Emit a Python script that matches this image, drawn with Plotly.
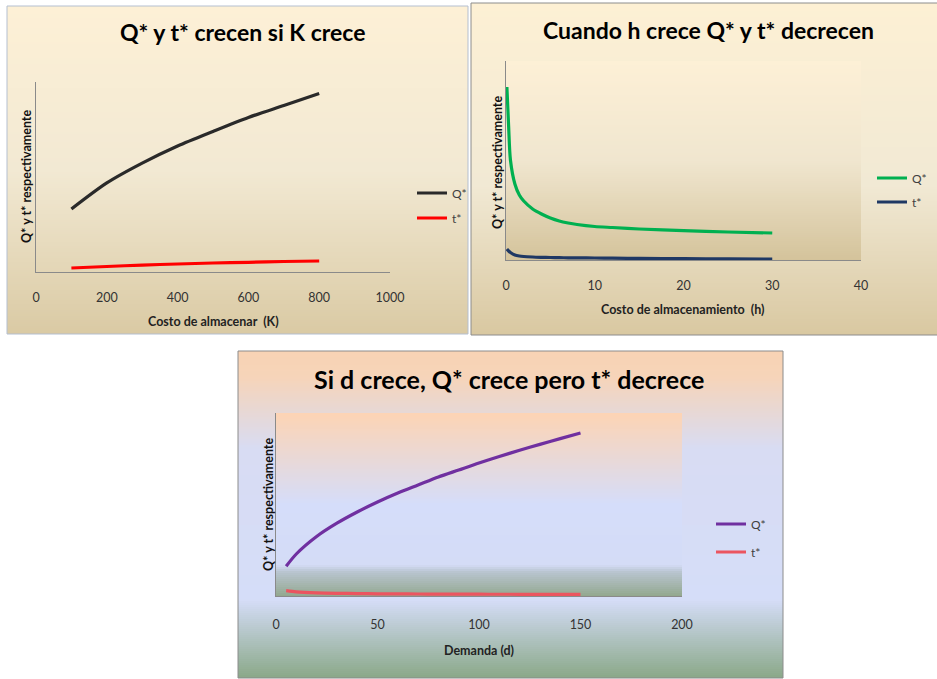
import plotly.graph_objects as go

W, H = 937, 679

# ---------------- data ----------------
# Panel 1: Costo de almacenar (K)
K_vals = [100, 200, 300, 400, 500, 600, 700, 800]
K_Q = [99.5, 140.7, 172.0, 199.0, 222.0, 244.0, 263.0, 282.0]
K_t = [6.3, 8.7, 11.0, 12.6, 14.2, 15.3, 16.6, 17.4]

# Panel 2: Costo de almacenamiento (h)
h_vals = [0.1, 0.3, 0.5, 1, 1.5, 2, 3, 4, 5, 6, 7, 8, 10, 12, 15, 20, 25, 30]
h_Q = [173, 133, 100, 76, 65, 59, 51, 46, 42, 39, 37, 35.5, 33.5, 32.5, 31, 29.3, 28, 27]
h_t = [11, 9, 7.5, 5, 4, 3.5, 3, 2.7, 2.5, 2.3, 2.2, 2.1, 2.0, 1.8, 1.6, 1.3, 1.1, 1.0]

# Panel 3: Demanda (d)
d_vals = [5, 10, 20, 30, 40, 50, 60, 70, 80, 90, 100, 110, 120, 130, 140, 150]
d_Q = [29.7, 42, 59.5, 72.8, 84, 94, 103, 111, 119, 126, 133, 139.5, 145.7, 151.6, 157.4, 163]
d_t = [5.3, 4.2, 3.2, 2.7, 2.4, 2.2, 2.1, 2.0, 1.9, 1.85, 1.8, 1.75, 1.7, 1.7, 1.7, 1.7]

ticks1 = [0, 200, 400, 600, 800, 1000]
ticks2 = [0, 10, 20, 30, 40]
ticks3 = [0, 50, 100, 150, 200]

titles = ["Q* y t* crecen si K crece",
          "Cuando h crece Q* y t* decrecen",
          "Si d crece, Q* crece pero t* decrece"]
xtitles = ["Costo de almacenar  (K)", "Costo de almacenamiento  (h)", "Demanda (d)"]
ytitle = "Q* y t* respectivamente"

FONT = "Lato"


def X(px):
    return px / W


def Y(py):
    return 1 - py / H


def hex2rgb(c):
    c = c.lstrip('#')
    return [int(c[i:i + 2], 16) for i in (0, 2, 4)]


def interp(stops, t):
    for (p0, c0), (p1, c1) in zip(stops[:-1], stops[1:]):
        if t <= p1:
            f = 0 if p1 == p0 else (t - p0) / (p1 - p0)
            a, b = hex2rgb(c0), hex2rgb(c1)
            return 'rgb(%d,%d,%d)' % tuple(round(a[i] + (b[i] - a[i]) * f) for i in range(3))
    return stops[-1][1]


shapes = []


def gradient(x0, x1, y0, y1, stops, step=2):
    py = y0
    while py < y1:
        t = (py + step / 2 - y0) / (y1 - y0)
        top = py
        bot = min(py + step + 0.6, y1)
        shapes.append(dict(type='rect', xref='paper', yref='paper', layer='below',
                           x0=X(x0), x1=X(x1), y0=Y(bot), y1=Y(top),
                           fillcolor=interp(stops, min(t, 1)), line=dict(width=0)))
        py += step


def border(x0, x1, y0, y1, color):
    shapes.append(dict(type='rect', xref='paper', yref='paper', layer='below',
                       x0=X(x0), x1=X(x1), y0=Y(y1), y1=Y(y0),
                       fillcolor='rgba(0,0,0,0)', line=dict(width=1, color=color)))


# panel backgrounds
gradient(7, 468, 6, 334, [(0, '#fdf0d6'), (0.5, '#f2e9d3'), (1, '#dacaa4')])
border(7, 468, 6, 334, '#b4bfd0')

gradient(471, 937, 3, 335, [(0, '#fdf0d4'), (0.55, '#f1e9d4'), (1, '#d9c8a1')])
border(471, 940, 3, 335, '#8c8c8c')
gradient(506, 861, 61, 260, [(0, '#fdf0d6'), (0.5, '#f0e6cf'), (1, '#d4c39b')])

gradient(238, 783, 351, 678, [(0, '#f8d3b4'), (0.08, '#f6d4b9'), (0.3, '#d8dcf3'),
                              (0.76, '#d5ddf8'), (1, '#8aa888')])
border(238, 783, 351, 678, '#8c8c8c')
gradient(276, 682, 413, 596, [(0, '#fdd4b4'), (0.5, '#d5ddfa'), (0.83, '#d4dcf6'),
                              (0.87, '#b8c4cf'), (1, '#93a88f')])

fig = go.Figure()

series = [
    (K_vals, K_Q, 'Q*', '#2a2a2a', 'x', 'y', 'legend'),
    (K_vals, K_t, 't*', '#ff0000', 'x', 'y', 'legend2'),
    (h_vals, h_Q, 'Q*', '#00b050', 'x2', 'y2', 'legend3'),
    (h_vals, h_t, 't*', '#1f3864', 'x2', 'y2', 'legend4'),
    (d_vals, d_Q, 'Q*', '#7030a0', 'x3', 'y3', 'legend5'),
    (d_vals, d_t, 't*', '#eb5560', 'x3', 'y3', 'legend6'),
]
for xs, ys, name, col, xa, ya, lg in series:
    fig.add_trace(go.Scatter(x=xs, y=ys, name=name, mode='lines', xaxis=xa, yaxis=ya,
                             legend=lg,
                             line=dict(color=col, width=3.2, shape='spline', smoothing=0.8)))

axcol = '#8a8a8a'
tickfont = dict(family=FONT, size=12.5, color='#333333')


def xax(dom, rng, ticks, anchor, standoff):
    return dict(domain=dom, range=rng, tickvals=ticks, anchor=anchor, showline=True,
                linecolor=axcol, linewidth=1, ticks='', showgrid=False, zeroline=False,
                tickfont=tickfont, ticklabelstandoff=standoff, fixedrange=True)


def yax(dom, rng, anchor):
    return dict(domain=dom, range=rng, anchor=anchor, showline=True, linecolor=axcol,
                linewidth=1, ticks='', showgrid=False, zeroline=False,
                showticklabels=False, fixedrange=True)


legs = {}
leg_pos = [(412, 193), (412, 218), (872, 178), (872, 202), (711, 524), (711, 552)]
for i, (lx, ly) in enumerate(leg_pos):
    key = 'legend' if i == 0 else 'legend%d' % (i + 1)
    legs[key] = dict(x=X(lx), y=Y(ly), xanchor='left', yanchor='middle',
                     bgcolor='rgba(0,0,0,0)', borderwidth=0,
                     font=dict(family=FONT, size=12, color='#404040'))

annotations = []


def ann(text, x, y, size, bold=True, angle=0, color='#000000'):
    annotations.append(dict(text=('<b>%s</b>' % text) if bold else text, x=X(x), y=Y(y),
                            xref='paper', yref='paper', showarrow=False, textangle=angle,
                            xanchor='center', yanchor='middle',
                            font=dict(family=FONT, size=size, color=color)))


ann(titles[0], 242, 32, 23)
ann(titles[1], 708, 30, 23)
ann(titles[2], 509, 379, 25)
ann(xtitles[0], 213, 321, 12.5, color='#222222')
ann(xtitles[1], 683, 310, 12.5, color='#222222')
ann(xtitles[2], 479, 650, 12.5, color='#222222')
ann(ytitle, 27, 177, 12.5, angle=-90, color='#111111')
ann(ytitle, 497, 162, 12.5, angle=-90, color='#111111')
ann(ytitle, 268, 505, 12.5, angle=-90, color='#111111')

fig.update_layout(
    width=W, height=H, autosize=False,
    margin=dict(l=0, r=0, t=0, b=0, pad=0, autoexpand=False),
    paper_bgcolor='white', plot_bgcolor='rgba(0,0,0,0)',
    showlegend=True,
    xaxis=xax([X(36), X(390)], [0, 1000], ticks1, 'y', 14),
    yaxis=yax([Y(272), Y(82)], [0, 300], 'x'),
    xaxis2=xax([X(506), X(861)], [0, 40], ticks2, 'y2', 14),
    yaxis2=yax([Y(260), Y(61)], [0, 199], 'x2'),
    xaxis3=xax([X(276), X(682)], [0, 200], ticks3, 'y3', 17),
    yaxis3=yax([Y(596), Y(413)], [0, 183], 'x3'),
    shapes=shapes,
    annotations=annotations,
    **legs,
)

fig.write_html("out.html",
               config=dict(displayModeBar=False, staticPlot=False),
               post_script="document.body.style.margin='0';document.body.style.padding='0';"
                           "document.body.style.overflow='hidden';")
